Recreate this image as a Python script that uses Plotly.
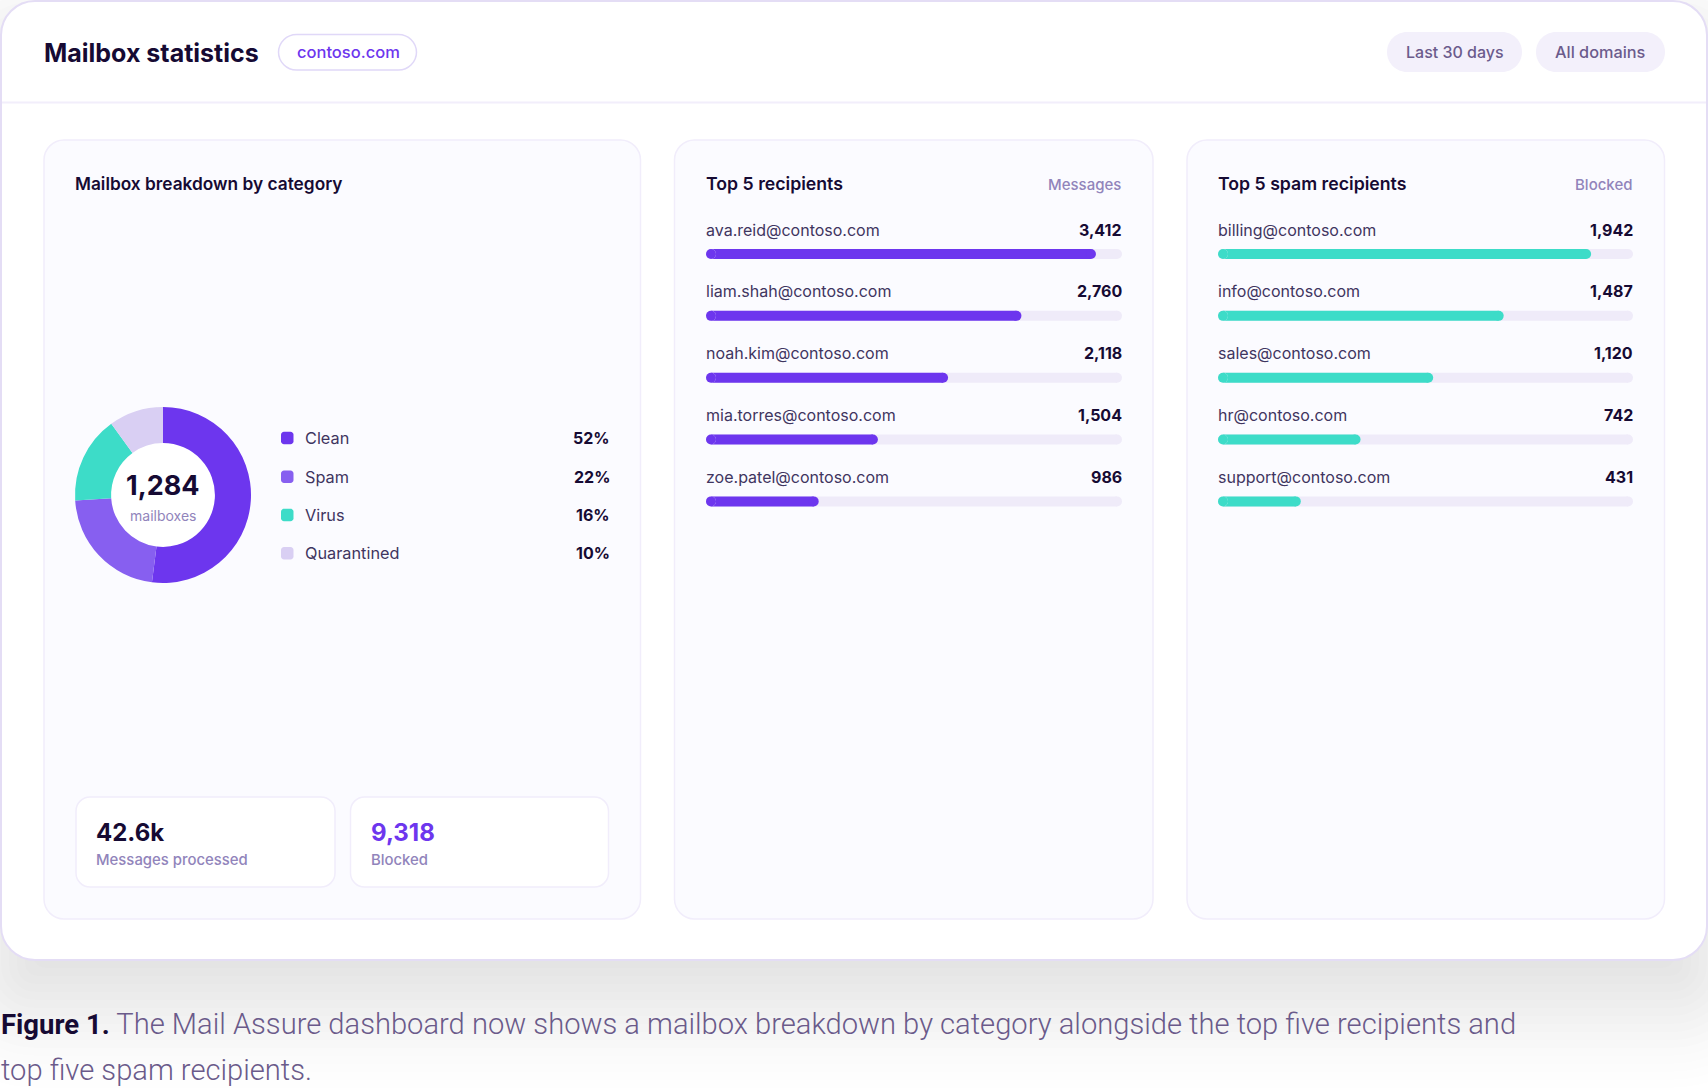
"""
plot.py
-------
Mailbox statistics dashboard: a donut and two top-5 bar lists inside cards.
Everything is placed in page pixels, then converted to paper coordinates.
"""
from math import erf

import plotly.graph_objects as go

W, H = 1708, 1092
FONT = "Inter"
CAPTION_FONT = "Roboto"

# data
categories = ["Clean", "Spam", "Virus", "Quarantined"]
category_share = [52, 22, 16, 10]
category_colors = ["#6d36ee", "#875ff0", "#3ddcc8", "#d9cff3"]

recipients = ["ava.reid@contoso.com", "liam.shah@contoso.com", "noah.kim@contoso.com",
              "mia.torres@contoso.com", "zoe.patel@contoso.com"]
recipient_messages = [3412, 2760, 2118, 1504, 986]
recipient_scale = 3640

spam_recipients = ["billing@contoso.com", "info@contoso.com", "sales@contoso.com",
                   "hr@contoso.com", "support@contoso.com"]
spam_blocked = [1942, 1487, 1120, 742, 431]
spam_scale = 2160

INK = "#160a33"
BODY = "#3f3560"
MUTED = "#9184bb"
PURPLE = "#6d36ee"
TEAL = "#3ddcc8"
TRACK = "#efebf9"
ROW_PX = 61.85
BAR_PX = 10


def px(x):
    return x / W


def py(y):
    return 1 - y / H


def rounded(x0, y0, x1, y1, r):
    """SVG path of a rounded rectangle, page pixels in, paper coordinates out."""
    k = r * 0.45
    pts = [
        ("M", (x0 + r, y0)), ("L", (x1 - r, y0)),
        ("C", (x1 - k, y0), (x1, y0 + k), (x1, y0 + r)), ("L", (x1, y1 - r)),
        ("C", (x1, y1 - k), (x1 - k, y1), (x1 - r, y1)), ("L", (x0 + r, y1)),
        ("C", (x0 + k, y1), (x0, y1 - k), (x0, y1 - r)), ("L", (x0, y0 + r)),
        ("C", (x0, y0 + k), (x0 + k, y0), (x0 + r, y0)),
    ]
    return " ".join(c + " ".join(f"{px(a):.6f},{py(b):.6f}" for a, b in p)
                    for c, *p in pts) + " Z"


shapes = []


def box(x0, y0, x1, y1, r, fill, line=None, width=1.5):
    shapes.append(dict(type="path", path=rounded(x0, y0, x1, y1, r), xref="paper", yref="paper",
                       fillcolor=fill, layer="below",
                       line=dict(color=line or fill, width=width if line else 0)))


annotations = []


def label(x, y, text, size, color, weight=400, anchor="left", family=FONT):
    annotations.append(dict(x=px(x), y=py(y), xref="paper", yref="paper", text=text, showarrow=False,
                            xanchor=anchor, yanchor="middle", borderpad=0,
                            font=dict(family=family, size=size, color=color, weight=weight)))


# soft drop shadow under the big card, stacked from faint layers
SHADOW_A, SIGMA, OFFSET, STEP = 0.155, 52, 40, 8
for d in range(104, -105, -STEP):
    cdf = lambda v: 0.5 * (1 + erf(v / (SIGMA * 2 ** 0.5)))
    alpha = SHADOW_A * (cdf(d + STEP / 2) - cdf(d - STEP / 2))
    box(1 - d, 1 + OFFSET - d, 1707 + d, 960 + OFFSET + d, max(34 + d, 12), f"rgba(20,15,40,{alpha:.4f})")

# big card and header
box(1, 1, 1707, 960, 34, "#ffffff", "#e4ddf5", 2)
shapes.append(dict(type="line", xref="paper", yref="paper", layer="below", x0=px(2), x1=px(1706),
                   y0=py(102.5), y1=py(102.5), line=dict(color="#f2eefb", width=2)))
label(43, 52.5, "Mailbox statistics", 25, INK, 700)
box(278.5, 34.5, 416.5, 70, 18, "#ffffff", "#e0d8f8", 1.5)
label(348.5, 52, "contoso.com", 16.5, PURPLE, 500, "center")
box(1387, 32, 1522, 72, 20, "#f3f0fb")
label(1454.5, 52, "Last 30 days", 16, "#6b5b8c", 500, "center")
box(1536, 32, 1665, 72, 20, "#f3f0fb")
label(1600.5, 52, "All domains", 16.3, "#6b5b8c", 500, "center")

# three cards
for x0, x1 in [(44, 640.5), (674.5, 1153), (1187, 1664.5)]:
    box(x0, 140, x1, 919, 20, "#fbfbff", "#f1edfb", 1.5)

# donut card
label(74, 183.5, "Mailbox breakdown by category", 17.3, INK, 600)
box(111, 443, 215, 547, 52, "#ffffff")
label(163, 485.5, "1,284", 27, INK, 700, "center")
label(163, 515.5, "mailboxes", 14, MUTED, 400, "center")

legend_y = [438, 476.7, 515, 553.3]
for name, share, color, y in zip(categories, category_share, category_colors, legend_y):
    box(281, y - 6.25, 293.5, y + 6.25, 3, color)
    label(304, y, name, 16.3, BODY)
    label(610.5, y, f"{share}%", 16, INK, 700, "right")

# stat tiles
box(76, 797, 335, 887, 14, "#ffffff", "#f1edfb", 1.5)
box(350.5, 797, 608.5, 887, 14, "#ffffff", "#f1edfb", 1.5)
label(95, 832, "42.6k", 24, INK, 700)
label(95, 860, "Messages processed", 14.9, MUTED, 500)
label(370, 832, "9,318", 24, PURPLE, 700)
label(370, 860, "Blocked", 14.9, MUTED, 500)

# caption
label(0, 1024, f"<b style='color:{INK};font-size:27.5px'>Figure 1.</b> The Mail Assure dashboard now shows a mailbox "
               "breakdown by category alongside the top five recipients and", 29.15, "#6a5a8a", 300,
      family=CAPTION_FONT)
label(0, 1070, "top five spam recipients.", 29.15, "#6a5a8a", 300, family=CAPTION_FONT)

fig = go.Figure()

fig.add_trace(go.Pie(
    labels=categories, values=category_share, hole=0.59, sort=False, direction="clockwise",
    rotation=0, textinfo="none", showlegend=False,
    marker=dict(colors=category_colors, line=dict(width=0)),
    domain=dict(x=[px(75), px(251)], y=[py(583), py(407)]),
))


def bar_list(n, x0, x1, title, unit, names, values, scale, color):
    """One card's list of pill bars, drawn on its own hidden axes."""
    xa, ya = ("x", "y") if n == 1 else (f"x{n}", f"y{n}")
    label(x0 - 1, 183.5, title, 17.7, INK, 600)
    label(x1, 184, unit, 15, MUTED, 500, "right")
    # plotly only rounds the tip of a bar, so the bar body stops one radius
    # short at each end and a round marker closes it off
    cap = (BAR_PX / 2) * scale / (x1 - x0)
    for vals, col in [([scale] * len(names), TRACK), (values, color)]:
        fig.add_trace(go.Bar(
            x=[v - 2 * cap for v in vals], base=cap, y=names, orientation="h",
            marker=dict(color=col, line=dict(width=0)),
            xaxis=xa, yaxis=ya, showlegend=False, hoverinfo="skip",
        ))
    for vals, col in [([scale] * len(names), TRACK), (values, color)]:
        fig.add_trace(go.Scatter(
            x=[cap] * len(names) + [v - cap for v in vals], y=names + names, mode="markers",
            marker=dict(color=col, size=BAR_PX, line=dict(width=0)),
            xaxis=xa, yaxis=ya, showlegend=False, hoverinfo="skip",
        ))
    for name, value in zip(names, values):
        common = dict(y=name, yref=ya, yshift=24.5, showarrow=False, yanchor="middle", borderpad=0)
        annotations.append(dict(x=0, xref=f"{xa} domain", xshift=-1, text=name, xanchor="left",
                                font=dict(family=FONT, size=16, color=BODY), **common))
        annotations.append(dict(x=1, xref=f"{xa} domain", xshift=0.5, text=f"{value:,}", xanchor="right",
                                font=dict(family=FONT, size=16, color=INK, weight=700), **common))
    top, bottom = 254 - ROW_PX / 2, 254 + 4.5 * ROW_PX
    axis = dict(visible=False, fixedrange=True)
    fig.update_layout({
        ("xaxis" if n == 1 else f"xaxis{n}"): dict(domain=[px(x0), px(x1)], range=[0, scale], anchor=ya, **axis),
        ("yaxis" if n == 1 else f"yaxis{n}"): dict(domain=[py(bottom), py(top)], range=[4.5, -0.5],
                                                   anchor=xa, type="category", **axis),
    })


bar_list(1, 706, 1122, "Top 5 recipients", "Messages", recipients, recipient_messages, recipient_scale, PURPLE)
bar_list(2, 1218, 1633, "Top 5 spam recipients", "Blocked", spam_recipients, spam_blocked, spam_scale, TEAL)

fig.update_layout(
    width=W, height=H, margin=dict(l=0, r=0, t=0, b=0),
    paper_bgcolor="#ffffff", plot_bgcolor="rgba(0,0,0,0)",
    barmode="overlay", bargap=1 - BAR_PX / ROW_PX,
    font=dict(family=FONT), showlegend=False,
    shapes=shapes, annotations=annotations,
)

fig.write_html("out.html", config=dict(displayModeBar=False),
               post_script="document.body.style.margin='0';document.body.style.overflow='hidden';")
